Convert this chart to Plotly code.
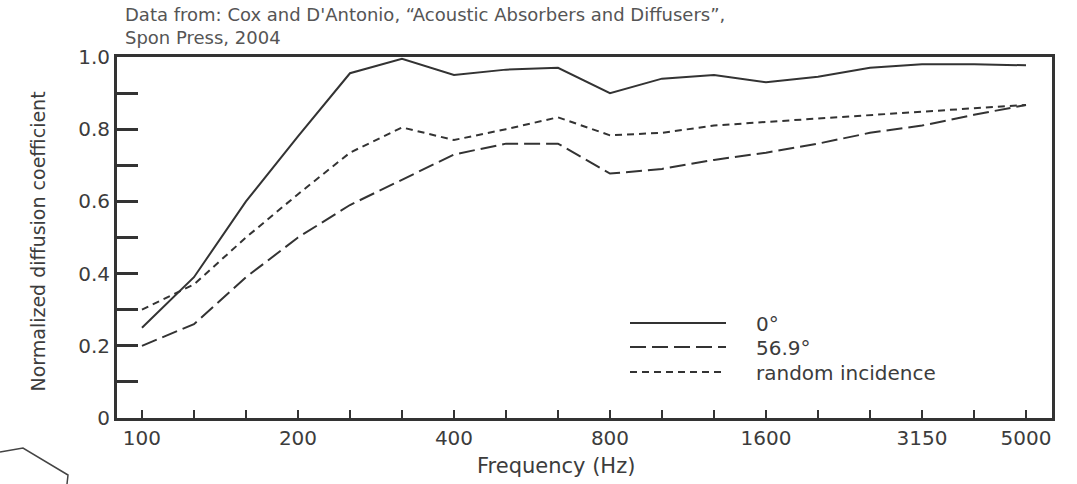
import plotly.graph_objects as go

# ---- data ----
bands = ["100", "125", "160", "200", "250", "315", "400", "500", "630", "800",
         "1000", "1250", "1600", "2000", "2500", "3150", "4000", "5000"]
labeled_bands = ["100", "200", "400", "800", "1600", "3150", "5000"]
diff_0deg = [0.25, 0.39, 0.60, 0.78, 0.955, 0.995, 0.95, 0.965, 0.97, 0.90,
             0.94, 0.95, 0.93, 0.945, 0.97, 0.98, 0.98, 0.977]
diff_569deg = [0.20, 0.26, 0.39, 0.50, 0.59, 0.66, 0.73, 0.76, 0.76, 0.677,
               0.69, 0.715, 0.735, 0.76, 0.79, 0.81, 0.84, 0.867]
diff_random = [0.30, 0.37, 0.50, 0.62, 0.735, 0.805, 0.77, 0.80, 0.833, 0.783,
               0.79, 0.81, 0.82, 0.83, 0.84, 0.848, 0.858, 0.867]
series_names = ["0°", "56.9°", "random incidence"]
y_ticks = [0, 0.2, 0.4, 0.6, 0.8, 1.0]
y_ticktext = ["0", "0.2", "0.4", "0.6", "0.8", "1.0"]

FONT = "DejaVu Sans"
LINE_C = "#333333"
TEXT_C = "#3c3c3c"
dashes = ["solid", "16px,6px", "7px,5px"]

xpos = list(range(len(bands)))
fig = go.Figure()
for name, vals, dash in zip(series_names, [diff_0deg, diff_569deg, diff_random], dashes):
    fig.add_trace(go.Scatter(x=xpos, y=vals, mode="lines", name=name,
                             line=dict(color=LINE_C, width=2, dash=dash),
                             showlegend=False))

ticktext = [b if b in labeled_bands else "" for b in bands]

fig.update_layout(
    width=1077, height=484,
    margin=dict(l=117, r=25, t=57, b=66),
    paper_bgcolor="white", plot_bgcolor="white",
    font=dict(family=FONT, color=TEXT_C),
    xaxis=dict(range=[-0.48, 17.5], tickvals=xpos, ticktext=ticktext,
               ticks="inside", ticklen=8, tickwidth=2, tickcolor="#333",
               showline=True, linecolor="#333", linewidth=3, mirror=True,
               showgrid=False, zeroline=False,
               tickfont=dict(family=FONT, size=20, color=TEXT_C)),
    yaxis=dict(range=[0, 1.0], tickvals=y_ticks, ticktext=y_ticktext,
               ticks="inside", ticklen=21, tickwidth=3, tickcolor="#333",
               minor=dict(dtick=0.1, ticks="inside", ticklen=21, tickwidth=3, tickcolor="#333"),
               showline=True, linecolor="#333", linewidth=3, mirror=True,
               showgrid=False, zeroline=False,
               tickfont=dict(family=FONT, size=20, color=TEXT_C)),
)

# header note
fig.add_annotation(xref="paper", yref="paper", x=0.006, y=1.152, xanchor="left", yanchor="top",
                   align="left", showarrow=False,
                   text="Data from: Cox and D'Antonio, “Acoustic Absorbers and Diffusers”,<br>Spon Press, 2004",
                   font=dict(family=FONT, size=18, color="#555555"))
# axis titles
fig.add_annotation(xref="paper", yref="paper", x=0.47, y=-0.134, xanchor="center", yanchor="middle",
                   showarrow=False, text="Frequency (Hz)",
                   font=dict(family=FONT, size=21, color=TEXT_C))
fig.add_annotation(xref="paper", yref="paper", x=-0.084, y=0.49, xanchor="center", yanchor="middle",
                   showarrow=False, text="Normalized diffusion coefficient", textangle=-90,
                   font=dict(family=FONT, size=19, color=TEXT_C))

# manual legend (paper coords)
def px_x(p):
    return (p - 117) / 935.0

def px_y(p):
    return (418 - p) / 361.0

leg_rows = [323, 347, 372]
for name, dash, row in zip(series_names, dashes, leg_rows):
    fig.add_shape(type="line", xref="paper", yref="paper",
                  x0=px_x(630), x1=px_x(726), y0=px_y(row), y1=px_y(row),
                  line=dict(color=LINE_C, width=2, dash=dash))
    fig.add_annotation(xref="paper", yref="paper", x=px_x(754), y=px_y(row + 1),
                       xanchor="left", yanchor="middle", showarrow=False, text=name,
                       font=dict(family=FONT, size=20, color=TEXT_C))

# clipped fragment at bottom-left edge of the source image
fig.add_shape(type="path", xref="paper", yref="paper",
              path=f"M{px_x(0)},{px_y(452)} L{px_x(23)},{px_y(448)} L{px_x(68)},{px_y(475)} L{px_x(67)},{px_y(484)}",
              line=dict(color="#444", width=1.5))

fig.write_html("out.html")
